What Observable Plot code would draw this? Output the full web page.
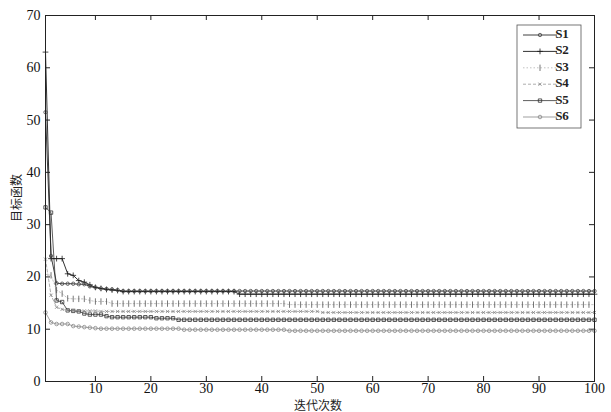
<!DOCTYPE html>
<html><head><meta charset="utf-8">
<script src="https://cdn.jsdelivr.net/npm/d3@7"></script>
<script src="https://cdn.jsdelivr.net/npm/@observablehq/plot@0.6"></script>
<style>body{margin:0;background:#fff;} #chart{width:611px;height:412px;}</style>
</head><body><div id="chart"></div>
<script>
// ---- data ----
const iterations = d3.range(1, 101);
const seriesNames = ["S1", "S2", "S3", "S4", "S5", "S6"];
const xTicks = [10, 20, 30, 40, 50, 60, 70, 80, 90, 100];
const yTicks = [0, 10, 20, 30, 40, 50, 60, 70];
const xLabel = "迭代次数";
const yLabel = "目标函数";

const S1 = [51.5,24,18.8,18.7,18.7,18.7,18.6,18.6,18.2,18.0,
  17.8,17.7,17.6,17.5,17.3,17.3,17.3,17.3,17.3,17.3,
  17.3,17.3,17.3,17.3,17.3,17.3,17.3,17.3,17.3,17.3,
  17.3,17.3,17.3,17.3,17.3,17.3,17.3,17.3,17.3,17.3,
  17.3,17.3,17.3,17.3,17.3,17.3,17.3,17.3,17.3,17.3,
  17.3,17.3,17.3,17.3,17.3,17.3,17.3,17.3,17.3,17.3,
  17.3,17.3,17.3,17.3,17.3,17.3,17.3,17.3,17.3,17.3,
  17.3,17.3,17.3,17.3,17.3,17.3,17.3,17.3,17.3,17.3,
  17.3,17.3,17.3,17.3,17.3,17.3,17.3,17.3,17.3,17.3,
  17.3,17.3,17.3,17.3,17.3,17.3,17.3,17.3,17.3,17.3];
const S2 = [63,23.5,23.5,23.5,20.6,20.3,19.3,19.0,18.5,18.0,
  17.8,17.6,17.5,17.4,17.2,17.2,17.2,17.2,17.2,17.2,
  17.2,17.2,17.2,17.2,17.2,17.2,17.2,17.2,17.2,17.2,
  17.2,17.2,17.2,17.2,17.2,16.7,16.7,16.7,16.7,16.7,
  16.7,16.7,16.7,16.7,16.7,16.7,16.7,16.7,16.7,16.7,
  16.7,16.7,16.7,16.7,16.7,16.7,16.7,16.7,16.7,16.7,
  16.7,16.7,16.7,16.7,16.7,16.7,16.7,16.7,16.7,16.7,
  16.7,16.7,16.7,16.7,16.7,16.7,16.7,16.7,16.7,16.7,
  16.7,16.7,16.7,16.7,16.7,16.7,16.7,16.7,16.7,16.7,
  16.7,16.7,16.7,16.7,16.7,16.7,16.7,16.7,16.7,16.7];
const S3 = [20.5,20.3,17.5,16.8,15.9,15.8,15.8,15.8,15.5,15.3,
  15.3,15.3,14.9,14.9,14.9,14.9,14.9,14.9,14.9,14.9,
  14.9,14.9,14.9,14.9,14.9,14.9,14.9,14.9,14.9,14.9,
  14.9,14.9,14.9,14.9,14.9,14.9,14.9,14.9,14.9,14.9,
  14.9,14.9,14.9,14.9,14.7,14.7,14.7,14.7,14.7,14.7,
  14.7,14.7,14.7,14.7,14.7,14.7,14.7,14.7,14.7,14.7,
  14.7,14.7,14.7,14.7,14.7,14.7,14.7,14.7,14.7,14.7,
  14.7,14.7,14.7,14.7,14.7,14.7,14.7,14.7,14.7,14.7,
  14.7,14.7,14.7,14.7,14.7,14.7,14.7,14.7,14.7,14.7,
  14.7,14.7,14.7,14.7,14.7,14.7,14.7,14.7,14.7,14.7];
const S4 = [23.4,16.5,14.2,13.8,13.6,13.6,13.5,13.5,13.5,13.5,
  13.4,13.4,13.4,13.4,13.4,13.4,13.4,13.4,13.4,13.4,
  13.4,13.4,13.4,13.4,13.4,13.4,13.4,13.4,13.4,13.4,
  13.4,13.4,13.4,13.4,13.4,13.4,13.4,13.4,13.4,13.4,
  13.4,13.4,13.4,13.4,13.4,13.4,13.4,13.4,13.4,13.4,
  13.2,13.2,13.2,13.2,13.2,13.2,13.2,13.2,13.2,13.2,
  13.2,13.2,13.2,13.2,13.2,13.2,13.2,13.2,13.2,13.2,
  13.2,13.2,13.2,13.2,13.2,13.2,13.2,13.2,13.2,13.2,
  13.2,13.2,13.2,13.2,13.2,13.2,13.2,13.2,13.2,13.2,
  13.2,13.2,13.2,13.2,13.2,13.2,13.2,13.2,13.2,13.2];
const S5 = [33.3,32.3,15.5,15.2,13.6,13.5,13.4,13.0,12.8,12.8,
  12.8,12.5,12.3,12.3,12.3,12.3,12.3,12.3,12.3,12.3,
  12.1,12.1,12.1,12.1,11.8,11.8,11.8,11.8,11.8,11.8,
  11.8,11.8,11.8,11.8,11.8,11.8,11.8,11.8,11.8,11.8,
  11.8,11.8,11.8,11.8,11.8,11.8,11.8,11.8,11.8,11.8,
  11.8,11.8,11.8,11.8,11.8,11.8,11.8,11.8,11.8,11.8,
  11.8,11.8,11.8,11.8,11.8,11.8,11.8,11.8,11.8,11.8,
  11.8,11.8,11.8,11.8,11.8,11.8,11.8,11.8,11.8,11.8,
  11.8,11.8,11.8,11.8,11.8,11.8,11.8,11.8,11.8,11.8,
  11.8,11.8,11.8,11.8,11.8,11.8,11.8,11.8,11.8,11.8];
const S6 = [13.2,11.3,11.0,11.0,11.0,10.6,10.5,10.4,10.3,10.2,
  10.1,10.1,10.1,10.1,10.1,10.1,10.1,10.1,10.1,10.1,
  10.1,10.1,10.1,10.1,10.1,9.9,9.9,9.9,9.9,9.9,
  9.9,9.9,9.9,9.9,9.9,9.9,9.9,9.9,9.9,9.9,
  9.9,9.9,9.9,9.9,9.7,9.7,9.7,9.7,9.7,9.7,
  9.7,9.7,9.7,9.7,9.7,9.7,9.7,9.7,9.7,9.7,
  9.7,9.7,9.7,9.7,9.7,9.7,9.7,9.7,9.7,9.7,
  9.7,9.7,9.7,9.7,9.7,9.7,9.7,9.7,9.7,9.7,
  9.7,9.7,9.7,9.7,9.7,9.7,9.7,9.7,9.7,9.7,
  9.7,9.7,9.7,9.7,9.7,9.7,9.7,9.7,9.7,9.7];
const seriesValues = [S1, S2, S3, S4, S5, S6];

// ---- styles ----
const serif = "'Liberation Serif', 'Times New Roman', serif";
const vbar = {draw(ctx, size) { const h = Math.sqrt(size) * 0.6; ctx.moveTo(0, -h); ctx.lineTo(0, h); }};
const styles = {
  S1: {stroke: "#2a2a2a", sw: 0.9, dash: null, symbol: "circle", r: 1.7, mstroke: "#444"},
  S2: {stroke: "#1a1a1a", sw: 0.9, dash: null, symbol: "plus", r: 2.0, mstroke: "#1a1a1a"},
  S3: {stroke: "#a8a8a8", sw: 0.7, dash: "1.5,2", symbol: vbar, r: 3.0, mstroke: "#555"},
  S4: {stroke: "#8a8a8a", sw: 0.7, dash: "3,2", symbol: "times", r: 1.6, mstroke: "#888"},
  S5: {stroke: "#333", sw: 0.8, dash: null, symbol: "square", r: 1.9, mstroke: "#333"},
  S6: {stroke: "#777", sw: 0.7, dash: null, symbol: "circle", r: 1.8, mstroke: "#888"}
};

const W = 611, H = 412, mL = 45, mR = 17, mT = 15, mB = 31;
const innerW = W - mL - mR, innerH = H - mT - mB;

const rows = [];
seriesNames.forEach((name, i) => seriesValues[i].forEach((v, j) => rows.push({x: iterations[j], y: v, s: name})));

const marks = [];
// inward ticks on all four sides
marks.push(Plot.tickX(xTicks, {x: d => d, insetTop: innerH - 5, stroke: "#222"}));
marks.push(Plot.tickX(xTicks, {x: d => d, insetBottom: innerH - 5, stroke: "#222"}));
marks.push(Plot.tickY(yTicks, {y: d => d, insetRight: innerW - 5, stroke: "#222"}));
marks.push(Plot.tickY(yTicks, {y: d => d, insetLeft: innerW - 5, stroke: "#222"}));
for (const name of [...seriesNames].reverse()) {
  const st = styles[name];
  const data = rows.filter(d => d.s === name);
  marks.push(Plot.line(data, {x: "x", y: "y", stroke: st.stroke, strokeWidth: st.sw, strokeDasharray: st.dash}));
  marks.push(Plot.dot(data, {x: "x", y: "y", symbol: st.symbol, r: st.r, stroke: st.mstroke, fill: "none", strokeWidth: 0.8}));
}
marks.push(Plot.frame({stroke: "#222", strokeWidth: 1}));
marks.push(Plot.axisX({ticks: xTicks, tickSize: 0, tickPadding: 2, label: null, fontSize: 14, fill: "#111"}));
marks.push(Plot.axisY({ticks: yTicks, tickSize: 0, tickPadding: 5, label: null, fontSize: 14, fill: "#111"}));

const chart = Plot.plot({
  width: W, height: H,
  marginLeft: mL, marginRight: mR, marginTop: mT, marginBottom: mB,
  x: {domain: [1, 100]},
  y: {domain: [0, 70]},
  style: {fontSize: "14px", color: "#111", background: "white"},
  marks
});

const svg = d3.select(chart);
// force the tick labels onto the serif face
svg.selectAll("text").style("font-family", serif).style("font-size", "14px");
// axis titles
svg.append("text").attr("x", 318).attr("y", H - 2)
  .attr("text-anchor", "middle").style("font-family", "'Noto Sans CJK SC', sans-serif").style("font-size", "12px").attr("fill", "#222")
  .text(xLabel);
svg.append("text").attr("transform", `translate(${18},${mT + innerH / 2}) rotate(-90)`)
  .attr("text-anchor", "middle").attr("dominant-baseline", "middle").style("font-family", "'Noto Sans CJK SC', sans-serif").style("font-size", "12px").attr("fill", "#222")
  .text(yLabel);

// legend
const lg = svg.append("g").attr("transform", `translate(${517},${25})`);
lg.append("rect").attr("width", 64).attr("height", 103).attr("fill", "white").attr("stroke", "#555").attr("stroke-width", 0.8);
seriesNames.forEach((name, i) => {
  const st = styles[name];
  const yy = 10 + i * 16.4;
  lg.append("line").attr("x1", 6).attr("x2", 40).attr("y1", yy).attr("y2", yy)
    .attr("stroke", st.stroke).attr("stroke-width", st.sw).attr("stroke-dasharray", st.dash);
  const symType = typeof st.symbol === "string"
    ? {circle: d3.symbolCircle, plus: d3.symbolPlus, times: d3.symbolTimes, square: d3.symbolSquare}[st.symbol]
    : st.symbol;
  lg.append("path").attr("transform", `translate(23,${yy})`)
    .attr("d", d3.symbol(symType, st.r * st.r * Math.PI)())
    .attr("fill", "none").attr("stroke", st.mstroke).attr("stroke-width", 0.8);
  lg.append("text").attr("x", 45).attr("y", yy).attr("dominant-baseline", "middle")
    .style("font-family", serif).style("font-size", "13px").attr("font-weight", "bold").attr("fill", "#222")
    .text(name);
});

document.getElementById("chart").appendChild(chart);
</script>
</body></html>
